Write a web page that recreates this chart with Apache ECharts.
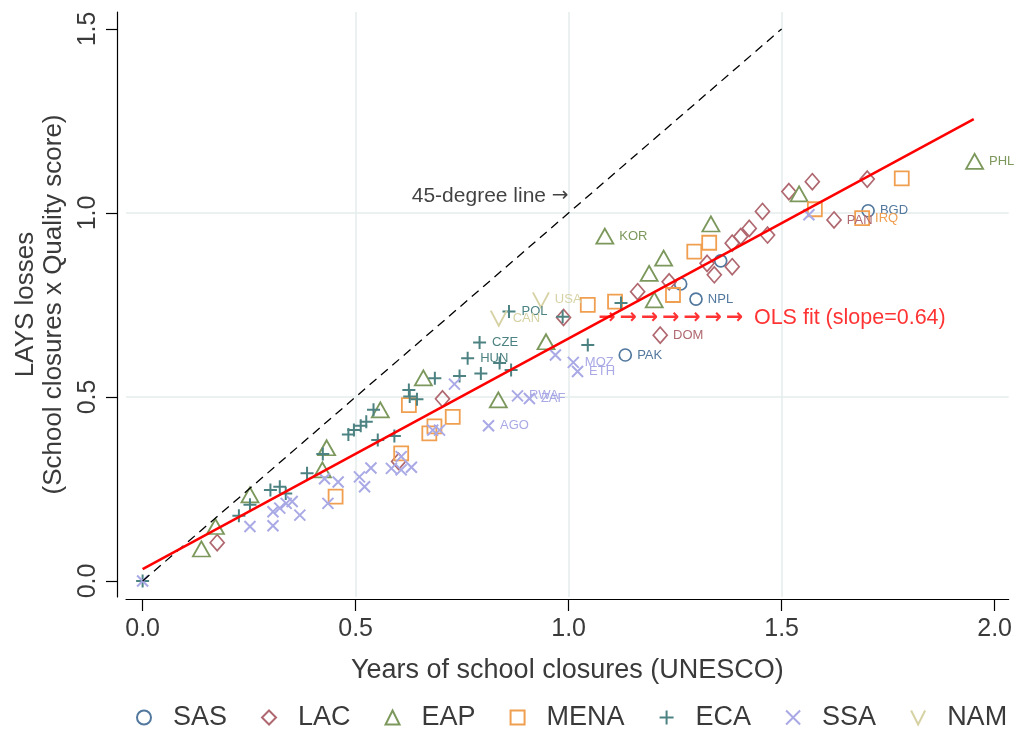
<!DOCTYPE html>
<html><head><meta charset="utf-8">
<script src="https://cdn.jsdelivr.net/npm/echarts@6/dist/echarts.min.js"></script>
<style>html,body{margin:0;padding:0;background:#fff}#c{width:1015px;height:730px}</style>
</head><body><div id="c"></div>
<script>
// ---- data ----
const sasX = [1.703, 1.299, 1.133, 1.263, 1.357];
const sasY = [1.006, 0.766, 0.614, 0.807, 0.870];
const sasLab = ['BGD', 'NPL', 'PAK', '', ''];

const lacX = [0.175, 0.601, 0.704, 0.988, 1.162, 1.215, 1.236, 1.325, 1.342, 1.384, 1.384, 1.404, 1.424, 1.455, 1.467, 1.517, 1.572, 1.623, 1.701];
const lacY = [0.104, 0.325, 0.495, 0.716, 0.786, 0.668, 0.813, 0.863, 0.832, 0.854, 0.918, 0.936, 0.958, 1.004, 0.940, 1.058, 1.085, 0.981, 1.092];
const lacLab = ['', '', '', '', '', 'DOM', '', '', '', '', '', '', '', '', '', '', '', 'PAN', ''];

const eapX = [0.138, 0.171, 0.252, 0.422, 0.432, 0.558, 0.659, 0.835, 0.947, 1.085, 1.189, 1.201, 1.223, 1.334, 1.541, 1.953];
const eapY = [0.087, 0.148, 0.234, 0.302, 0.362, 0.465, 0.552, 0.492, 0.650, 0.937, 0.836, 0.764, 0.877, 0.970, 1.052, 1.140];
const eapLab = ['', '', '', '', '', '', '', '', '', 'KOR', '', '', '', '', '', 'PHL'];

const menaX = [0.453, 0.607, 0.625, 0.673, 0.685, 0.728, 1.045, 1.109, 1.245, 1.295, 1.330, 1.578, 1.689, 1.782];
const menaY = [0.229, 0.347, 0.478, 0.401, 0.420, 0.446, 0.750, 0.759, 0.777, 0.895, 0.919, 1.010, 0.986, 1.094];
const menaLab = ['', '', '', '', '', '', '', '', '', '', '', '', 'IRQ', ''];

const ecaX = [0, 0.226, 0.252, 0.300, 0.322, 0.336, 0.386, 0.423, 0.483, 0.496, 0.512, 0.525, 0.542, 0.552, 0.591, 0.625, 0.627, 0.644, 0.686, 0.744, 0.763, 0.791, 0.794, 0.838, 0.865, 0.860, 0.986, 1.045, 1.123];
const ecaY = [0, 0.177, 0.207, 0.247, 0.256, 0.238, 0.293, 0.345, 0.398, 0.410, 0.422, 0.433, 0.465, 0.383, 0.394, 0.519, 0.501, 0.494, 0.551, 0.557, 0.605, 0.648, 0.564, 0.592, 0.573, 0.732, 0.718, 0.641, 0.755];
const ecaLab = ['', '', '', '', '', '', '', '', '', '', '', '', '', '', '', '', '', '', '', '', 'HUN', 'CZE', '', '', '', 'POL', '', '', ''];

const ssaX = [0, 0.252, 0.306, 0.306, 0.322, 0.337, 0.351, 0.369, 0.427, 0.435, 0.459, 0.509, 0.521, 0.536, 0.584, 0.607, 0.607, 0.631, 0.681, 0.697, 0.732, 0.812, 0.880, 0.908, 0.969, 1.011, 1.021, 1.564];
const ssaY = [0, 0.148, 0.150, 0.188, 0.198, 0.211, 0.216, 0.179, 0.278, 0.211, 0.269, 0.283, 0.256, 0.307, 0.306, 0.302, 0.338, 0.309, 0.410, 0.410, 0.535, 0.422, 0.503, 0.496, 0.614, 0.594, 0.569, 0.995];
const ssaLab = ['', '', '', '', '', '', '', '', '', '', '', '', '', '', '', '', '', '', '', '', '', 'AGO', 'RWA', 'ZAF', '', 'MOZ', 'ETH', ''];

const namX = [0.836, 0.935];
const namY = [0.714, 0.764];
const namLab = ['CAN', 'USA'];

const diagX = [0, 1.5];
const diagY = [0, 1.5];
const olsX = [0, 1.951];
const olsY = [0.032, 1.255];

const xTicks = [0, 0.5, 1, 1.5, 2];
const yTicks = [0, 0.5, 1, 1.5];

const annoDiag = {x: 1.0, y: 1.046, text: '45-degree line'};
const annoArrows = {x: 1.070, y: 0.715, text: '\u2192\u2009\u2192\u2009\u2192\u2009\u2192\u2009\u2192\u2009\u2192\u2009\u2192'};
const annoOls = {x: 1.435, y: 0.715, text: 'OLS fit (slope=0.64)'};

// ---- chart ----
const FONT = '"Liberation Sans", Arial, Helvetica, sans-serif';
const ARROWFONT = '"DejaVu Sans", sans-serif';
const TXT = '#3a3a3a';

function pts(xs, ys, labs) {
  return xs.map((x, i) => ({value: [x, ys[i]], name: labs[i] || ''}));
}
function scat(name, xs, ys, labs, symbol, size, color, bw) {
  return {
    name: name, type: 'scatter', symbol: symbol, symbolSize: size,
    data: pts(xs, ys, labs),
    itemStyle: {color: 'rgba(255,255,255,0)', borderColor: color, borderWidth: bw, opacity: 1},
    label: {show: true, position: 'right', distance: 5, formatter: p => p.name,
      color: color, fontSize: 13, fontFamily: FONT},
    emphasis: {disabled: true}, animation: false
  };
}
function lineSeries(xs, ys, style) {
  return {type: 'line', data: xs.map((x, i) => [x, ys[i]]), showSymbol: false, symbol: 'none',
    lineStyle: style, silent: true, animation: false, z: 3};
}
function anno(a, pos, label) {
  return {type: 'scatter', symbolSize: 0, silent: true, animation: false, z: 4,
    data: [{value: [a.x, a.y], name: a.text}],
    label: Object.assign({show: true, position: pos, distance: 0}, label)};
}

const PLUS = 'path://M0,5L10,5M5,0L5,10';
const CROSS = 'path://M0,0L10,10M0,10L10,0';
const VEE = 'path://M0,0L5,10L10,0';

const chart = echarts.init(document.getElementById('c'), null, {renderer: 'canvas'});
const tickFmt = v => (Math.abs(v * 2 - Math.round(v * 2)) < 1e-6 ? v.toFixed(1) : '');
chart.setOption({
  backgroundColor: '#fff',
  animation: false,
  textStyle: {fontFamily: FONT},
  grid: {left: 126, right: 5, top: 12, bottom: 133, containLabel: false},
  xAxis: {
    type: 'value', min: -0.039, max: 2.033, splitNumber: 4, offset: 2,
    axisLine: {show: true, onZero: false, lineStyle: {color: '#000', width: 1.2}},
    axisTick: {show: true, length: 12, customValues: xTicks, lineStyle: {color: '#000', width: 1.2}},
    axisLabel: {customValues: xTicks, formatter: tickFmt, fontSize: 25, color: TXT, margin: 18, fontFamily: FONT},
    splitLine: {show: true, showMinLine: false, showMaxLine: false, lineStyle: {color: '#e4eced', width: 1.5}},
    name: 'Years of school closures (UNESCO)', nameLocation: 'middle', nameGap: 58,
    nameTextStyle: {fontSize: 27, color: TXT, fontFamily: FONT}
  },
  yAxis: {
    type: 'value', min: -0.0435, max: 1.546, splitNumber: 3, offset: 9,
    axisLine: {show: true, onZero: false, lineStyle: {color: '#000', width: 1.2}},
    axisTick: {show: true, length: 11, customValues: yTicks, lineStyle: {color: '#000', width: 1.2}},
    axisLabel: {customValues: yTicks, rotate: 90, formatter: tickFmt, fontSize: 25, color: TXT, margin: 16, fontFamily: FONT},
    splitLine: {show: true, showMinLine: false, showMaxLine: false, lineStyle: {color: '#e4eced', width: 1.5}},
    name: 'LAYS losses\n(School closures x Quality score)', nameLocation: 'middle', nameGap: 47, nameRotate: 90,
    nameTextStyle: {fontSize: 26, lineHeight: 28, color: TXT, fontFamily: FONT, align: 'center'}
  },
  legend: {
    left: 136, top: 704, padding: 0, orient: 'horizontal', itemWidth: 14, itemHeight: 14, itemGap: 34,
    data: ['SAS', 'LAC', 'EAP', 'MENA', 'ECA', 'SSA', 'NAM'],
    textStyle: {fontSize: 27, color: TXT, fontFamily: FONT, padding: [0, 0, 0, 17]}
  },
  series: [
    scat('SAS', sasX, sasY, sasLab, 'circle', 12, '#52789e', 1.7),
    scat('LAC', lacX, lacY, lacLab, 'diamond', [14, 16], '#b06870', 1.7),
    scat('EAP', eapX, eapY, eapLab, 'triangle', [17, 15], '#7c985c', 1.8),
    scat('MENA', menaX, menaY, menaLab, 'rect', 14, '#f09f50', 1.8),
    scat('ECA', ecaX, ecaY, ecaLab, PLUS, 13, '#4d8282', 2),
    scat('SSA', ssaX, ssaY, ssaLab, CROSS, 11, '#a9a9e6', 2),
    scat('NAM', namX, namY, namLab, VEE, [16, 15], '#d6d2a4', 1.8),
    lineSeries(diagX, diagY, {color: '#000', width: 1.3, type: [9, 6]}),
    lineSeries(olsX, olsY, {color: '#ff0000', width: 2.5, type: 'solid'}),
    anno(annoDiag, 'left', {
      formatter: p => '{t|' + p.name + ' }{a|\u2192}',
      rich: {t: {fontSize: 21, color: '#111', fontFamily: FONT}, a: {fontSize: 20, color: '#111', fontFamily: ARROWFONT}}
    }),
    anno(annoArrows, 'right', {formatter: p => p.name, fontSize: 20.5, fontWeight: 'bold', color: '#ff0000', fontFamily: ARROWFONT}),
    anno(annoOls, 'right', {formatter: p => p.name, fontSize: 21.5, color: '#ff0000', fontFamily: FONT})
  ]
});
</script>
</body></html>
